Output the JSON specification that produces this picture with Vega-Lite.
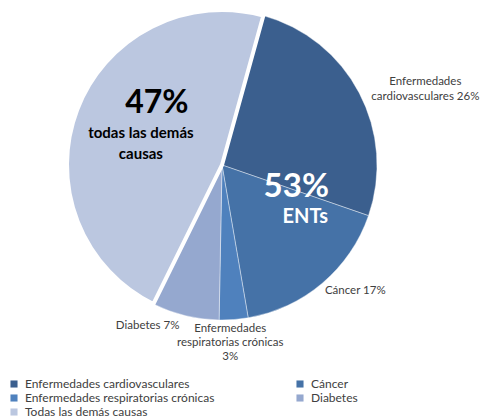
{
  "$schema": "https://vega.github.io/schema/vega-lite/v6.json",
  "width": 444,
  "height": 330,
  "padding": 0,
  "background": "white",
  "config": {"view": {"stroke": null}, "font": "Lato"},
  "datasets": {
    "causas": [
      {"causa": "Enfermedades cardiovasculares", "valor": 26, "orden": 1, "etiqueta": "Enfermedades\ncardiovasculares 26%"},
      {"causa": "Cáncer", "valor": 17, "orden": 2, "etiqueta": "Cáncer 17%"},
      {"causa": "Enfermedades respiratorias crónicas", "valor": 3, "orden": 3, "etiqueta": "Enfermedades\nrespiratorias crónicas\n3%"},
      {"causa": "Diabetes", "valor": 7, "orden": 4, "etiqueta": "Diabetes 7%"},
      {"causa": "Todas las demás causas", "valor": 47, "orden": 5, "etiqueta": "Todas las demás causas 47%"}
    ],
    "grupos": [
      {"grupo": "ENTs", "valor": 53, "orden": 1, "pct": "53%", "nombre": "ENTs"},
      {"grupo": "Otras", "valor": 47, "orden": 2, "pct": "47%", "nombre": "todas las demás\ncausas"}
    ]
  },
  "layer": [
    {
      "data": {"name": "causas"},
      "mark": {"type": "arc", "outerRadius": 155, "stroke": "#ffffff"},
      "encoding": {
        "theta": {"field": "valor", "type": "quantitative", "stack": true, "scale": {"range": [0.27, 6.5532]}},
        "order": {"field": "orden", "type": "quantitative"},
        "color": {
          "field": "causa", "type": "nominal",
          "scale": {
            "domain": ["Enfermedades cardiovasculares", "Enfermedades respiratorias crónicas", "Todas las demás causas", "Cáncer", "Diabetes"],
            "range": ["#3b5f8e", "#4f81bd", "#bbc7e0", "#4572a7", "#95a8cf"]
          },
          "legend": {
            "orient": "none", "legendX": 8, "legendY": 378, "columns": 2, "title": null,
            "symbolType": "square", "symbolSize": 50, "symbolStrokeWidth": 0,
            "labelFontSize": 12, "labelColor": "#404040", "labelFont": "Lato",
            "columnPadding": 79, "rowPadding": 2, "labelLimit": 300, "labelOffset": 5
          }
        },
        "strokeWidth": {"condition": {"test": "datum.orden === 5", "value": 4}, "value": 0.4}
      }
    },
    {
      "data": {"name": "causas"},
      "mark": {"type": "text", "radius": 180, "dx": 44, "dy": 1, "fontSize": 11.5, "fill": "#404040", "lineBreak": "\n", "lineHeight": 15, "align": "center", "baseline": "middle"},
      "encoding": {
        "theta": {"field": "valor", "type": "quantitative", "stack": true},
        "order": {"field": "orden", "type": "quantitative"},
        "detail": {"field": "causa", "type": "nominal"},
        "text": {"condition": {"test": "datum.orden === 1", "field": "etiqueta"}, "value": ""}
      }
    },
    {
      "data": {"name": "causas"},
      "mark": {"type": "text", "radius": 175, "dx": 20, "dy": -7, "fontSize": 11.5, "fill": "#404040", "lineBreak": "\n", "lineHeight": 14, "align": "center", "baseline": "middle"},
      "encoding": {
        "theta": {"field": "valor", "type": "quantitative", "stack": true},
        "order": {"field": "orden", "type": "quantitative"},
        "detail": {"field": "causa", "type": "nominal"},
        "text": {"condition": {"test": "datum.orden === 2", "field": "etiqueta"}, "value": ""}
      }
    },
    {
      "data": {"name": "causas"},
      "mark": {"type": "text", "radius": 175, "dx": -5, "dy": -11, "fontSize": 11.5, "fill": "#404040", "lineBreak": "\n", "lineHeight": 14, "align": "center", "baseline": "middle"},
      "encoding": {
        "theta": {"field": "valor", "type": "quantitative", "stack": true},
        "order": {"field": "orden", "type": "quantitative"},
        "detail": {"field": "causa", "type": "nominal"},
        "text": {"condition": {"test": "datum.orden === 3", "field": "etiqueta"}, "value": ""}
      }
    },
    {
      "data": {"name": "causas"},
      "mark": {"type": "text", "radius": 175, "dx": -33, "dy": -9, "fontSize": 11.5, "fill": "#404040", "lineBreak": "\n", "lineHeight": 14, "align": "center", "baseline": "middle"},
      "encoding": {
        "theta": {"field": "valor", "type": "quantitative", "stack": true},
        "order": {"field": "orden", "type": "quantitative"},
        "detail": {"field": "causa", "type": "nominal"},
        "text": {"condition": {"test": "datum.orden === 4", "field": "etiqueta"}, "value": ""}
      }
    },
    {
      "data": {"name": "grupos"},
      "mark": {"type": "text", "radius": 72, "dx": 7, "dy": -4, "fontSize": 33, "fontWeight": "bold", "fill": "#ffffff", "align": "center", "baseline": "middle"},
      "encoding": {
        "theta": {"field": "valor", "type": "quantitative", "stack": true},
        "order": {"field": "orden", "type": "quantitative"},
        "detail": {"field": "grupo", "type": "nominal"},
        "text": {"condition": {"test": "datum.orden === 1", "field": "pct"}, "value": ""}
      }
    },
    {
      "data": {"name": "grupos"},
      "mark": {"type": "text", "radius": 72, "dx": 16, "dy": 26, "fontSize": 20, "fontWeight": "bold", "fill": "#ffffff", "align": "center", "baseline": "middle"},
      "encoding": {
        "theta": {"field": "valor", "type": "quantitative", "stack": true},
        "order": {"field": "orden", "type": "quantitative"},
        "detail": {"field": "grupo", "type": "nominal"},
        "text": {"condition": {"test": "datum.orden === 1", "field": "nombre"}, "value": ""}
      }
    },
    {
      "data": {"name": "grupos"},
      "mark": {"type": "text", "radius": 90, "dx": 19, "dy": -30, "fontSize": 32, "fontWeight": "bold", "fill": "#000000", "align": "center", "baseline": "middle"},
      "encoding": {
        "theta": {"field": "valor", "type": "quantitative", "stack": true},
        "order": {"field": "orden", "type": "quantitative"},
        "detail": {"field": "grupo", "type": "nominal"},
        "text": {"condition": {"test": "datum.orden === 2", "field": "pct"}, "value": ""}
      }
    },
    {
      "data": {"name": "grupos"},
      "mark": {"type": "text", "radius": 90, "dx": 3, "dy": 0, "fontSize": 15, "fontWeight": "bold", "fill": "#000000", "lineBreak": "\n", "lineHeight": 21, "align": "center", "baseline": "middle"},
      "encoding": {
        "theta": {"field": "valor", "type": "quantitative", "stack": true},
        "order": {"field": "orden", "type": "quantitative"},
        "detail": {"field": "grupo", "type": "nominal"},
        "text": {"condition": {"test": "datum.orden === 2", "field": "nombre"}, "value": ""}
      }
    }
  ]
}
